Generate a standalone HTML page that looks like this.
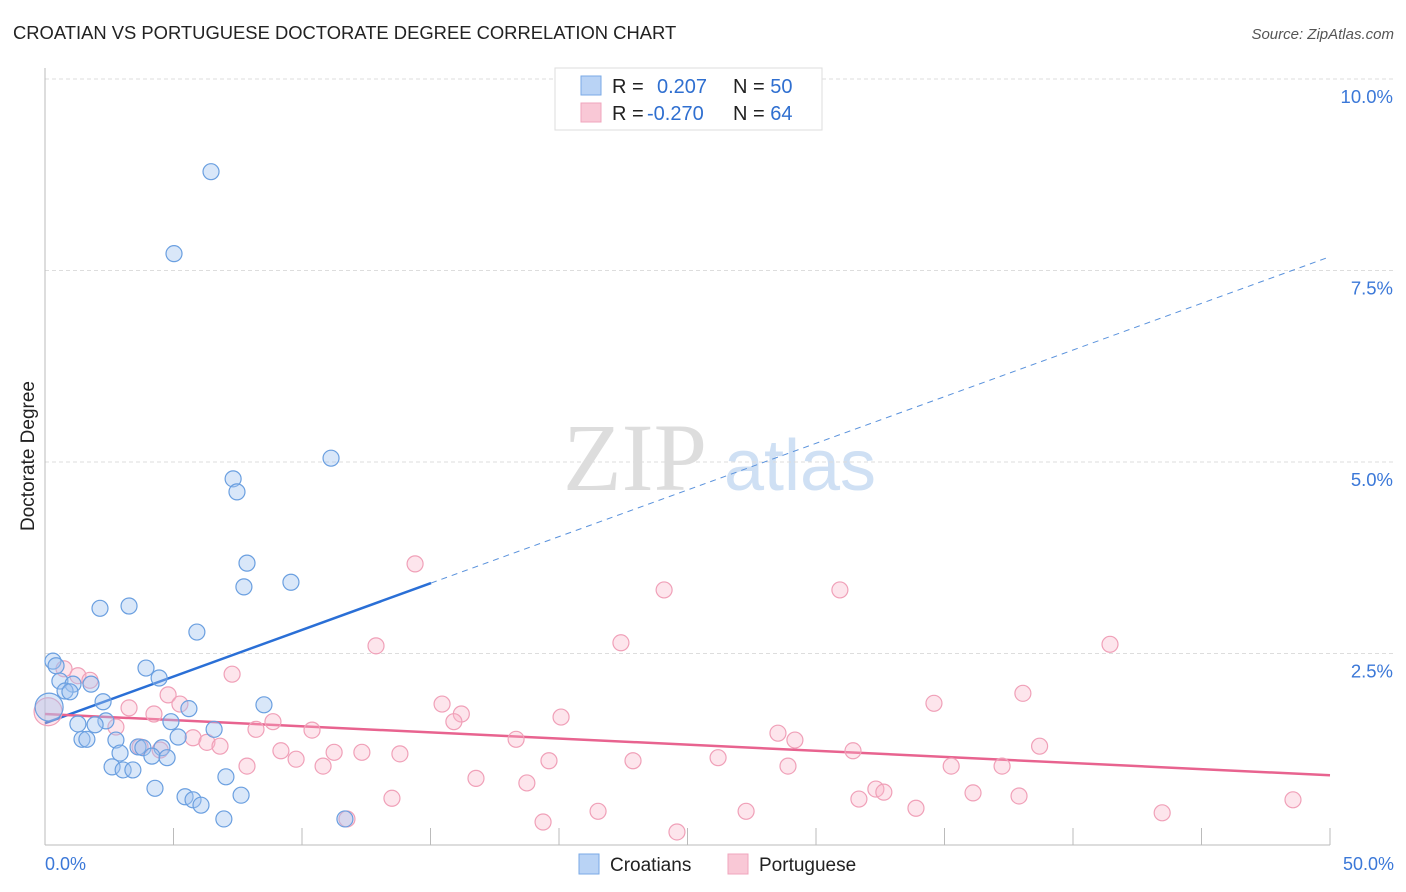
<!DOCTYPE html>
<html><head><meta charset="utf-8"><style>
body{margin:0;background:#fff;font-family:"Liberation Sans",sans-serif}
svg{display:block}
</style></head><body>
<svg id="chart" width="1406" height="892">
<text x="13" y="39" font-size="18.4" fill="#222">CROATIAN VS PORTUGUESE DOCTORATE DEGREE CORRELATION CHART</text>
<text x="1394" y="39" font-size="15" fill="#555" font-style="italic" text-anchor="end">Source: ZipAtlas.com</text>
<text x="34" y="456" font-size="19" fill="#222" text-anchor="middle" transform="rotate(-90 34 456)">Doctorate Degree</text>
<g><text x="635" y="490" font-family="Liberation Serif,serif" font-size="96" fill="#ddd" text-anchor="middle">ZIP</text><text x="800" y="490" font-size="72" fill="#cfe0f4" text-anchor="middle">atlas</text></g>
<g id="grid"></g><g id="axes"></g><g id="lines"></g><g id="pts"></g>
<g>
<rect x="555" y="68" width="267" height="62" fill="#fff" stroke="#ddd"/>
<rect x="581" y="76" width="20" height="19" fill="#b9d3f5" stroke="#7aaae6"/>
<rect x="581" y="103" width="20" height="19" fill="#f9c8d6" stroke="#f0a6bd"/>
<text x="612" y="93" font-size="20" fill="#222">R = <tspan x="657" fill="#2f6fd0">0.207</tspan><tspan x="733" fill="#222">N = </tspan><tspan fill="#2f6fd0">50</tspan></text>
<text x="612" y="120" font-size="20" fill="#222">R = <tspan x="647" fill="#2f6fd0">-0.270</tspan><tspan x="733" fill="#222">N = </tspan><tspan fill="#2f6fd0">64</tspan></text>
</g>
<g>
<rect x="579" y="854" width="20" height="20" fill="#b9d3f5" stroke="#7aaae6"/>
<text x="610" y="871" font-size="19" fill="#222">Croatians</text>
<rect x="728" y="854" width="20" height="20" fill="#f9c8d6" stroke="#f0a6bd"/>
<text x="759" y="871" font-size="19" fill="#222">Portuguese</text>
</g>
</svg>
<script>
const yTicks=[2.5,5,7.5,10];
const yTickLabels=["2.5%","5.0%","7.5%","10.0%"];
const xTickLabels=["0.0%","50.0%"];
const croX=[6.46,5.02,11.13,7.32,7.47,7.86,7.74,9.57,2.14,3.27,5.91,0.31,0.43,3.93,0.58,1.09,4.44,1.79,0.78,0.97,2.26,5.60,8.52,2.37,1.95,1.28,4.90,6.58,1.44,1.63,2.76,5.18,3.62,3.81,4.55,2.92,4.16,4.75,2.61,3.04,3.42,7.04,4.28,5.45,5.76,6.07,7.63,6.96,11.67,0.16];
const croY=[8.79,7.72,5.05,4.78,4.61,3.68,3.37,3.43,3.09,3.12,2.78,2.40,2.34,2.31,2.14,2.10,2.18,2.10,2.01,2.00,1.87,1.78,1.83,1.62,1.57,1.58,1.61,1.51,1.38,1.38,1.37,1.41,1.28,1.27,1.27,1.20,1.16,1.14,1.02,0.98,0.98,0.89,0.74,0.63,0.59,0.52,0.65,0.34,0.34,1.80];
const porX=[14.40,24.09,30.93,12.88,22.41,41.44,0.74,1.28,1.75,7.28,4.79,38.05,5.25,3.27,15.45,34.59,4.24,16.20,0.12,20.08,15.91,8.87,10.39,8.21,2.76,5.76,6.30,6.81,3.70,9.18,9.77,11.25,12.33,13.81,18.33,28.52,29.18,31.44,38.70,19.61,22.88,26.19,28.91,35.26,37.24,7.86,10.82,16.77,18.75,32.33,32.64,36.11,37.90,13.50,31.67,48.56,21.52,27.28,33.89,43.47,19.38,11.75,24.59,4.48];
const porY=[3.67,3.33,3.33,2.60,2.64,2.62,2.30,2.21,2.15,2.23,1.96,1.98,1.84,1.79,1.84,1.85,1.71,1.71,1.74,1.67,1.61,1.61,1.50,1.51,1.54,1.40,1.34,1.29,1.28,1.23,1.12,1.21,1.21,1.19,1.38,1.46,1.37,1.23,1.29,1.10,1.10,1.14,1.03,1.03,1.03,1.03,1.03,0.87,0.81,0.73,0.69,0.68,0.64,0.61,0.60,0.59,0.44,0.44,0.48,0.42,0.30,0.34,0.17,1.24];
const croTrend=[1.59,7.68], croSolidEnd=15.02;
const porTrend=[1.71,0.91];
const NS="http://www.w3.org/2000/svg";
const sx=v=>45+v*25.7, sy=v=>845-v*76.6;
function mk(tag,attrs,parent){const e=document.createElementNS(NS,tag);for(const k in attrs)e.setAttribute(k,attrs[k]);document.getElementById(parent).appendChild(e);return e;}
yTicks.forEach((t,i)=>{
 const g=mk('line',{x1:45,x2:1395,y1:sy(t),y2:sy(t),stroke:'#ddd','stroke-dasharray':'4 3'},'grid');
 
 
 const l=mk('text',{x:1393,y:sy(t)+24,'font-size':18.5,fill:'#3b78d8','text-anchor':'end'},'grid');
 l.textContent=yTickLabels[i];
 
 
});
mk('line',{x1:45,x2:45,y1:68,y2:845,stroke:'#bbb'},'axes');
mk('line',{x1:45,x2:1330,y1:845,y2:845,stroke:'#bbb'},'axes');
for(let v=5;v<=50;v+=5){const t=mk('line',{x1:sx(v),x2:sx(v),y1:828,y2:845,stroke:'#bbb'},'axes');
 
 }
const xl0=mk('text',{x:45,y:870,'font-size':18,fill:'#3b78d8'},'axes');xl0.textContent=xTickLabels[0];


const xl1=mk('text',{x:1394,y:870,'font-size':18,fill:'#3b78d8','text-anchor':'end'},'axes');xl1.textContent=xTickLabels[1];


function pts(xs,ys,fill,stroke,name){xs.forEach((x,i)=>{const r=(x<0.3)?14:8;const c=mk('circle',{cx:sx(x),cy:sy(ys[i]),r:r,fill:fill,stroke:stroke,'stroke-width':1.2},'pts');
 
 });}
pts(porX,porY,'rgba(248,180,200,0.35)','#f0a0b8','portuguese-point');
pts(croX,croY,'rgba(160,196,240,0.4)','#6a9fe0','croatian-point');
const cy=x=>croTrend[0]+(croTrend[1]-croTrend[0])*x/50;
const l1=mk('line',{x1:sx(0),y1:sy(cy(0)),x2:sx(croSolidEnd),y2:sy(cy(croSolidEnd)),stroke:'#2a6fd6','stroke-width':2.5},'lines');


const l2=mk('line',{x1:sx(croSolidEnd),y1:sy(cy(croSolidEnd)),x2:sx(50),y2:sy(cy(50)),stroke:'#5a92dc','stroke-width':1,'stroke-dasharray':'6 5'},'lines');


const l3=mk('line',{x1:sx(0),y1:sy(porTrend[0]),x2:sx(50),y2:sy(porTrend[1]),stroke:'#e8638f','stroke-width':2.5},'lines');


</script>
</body></html>
